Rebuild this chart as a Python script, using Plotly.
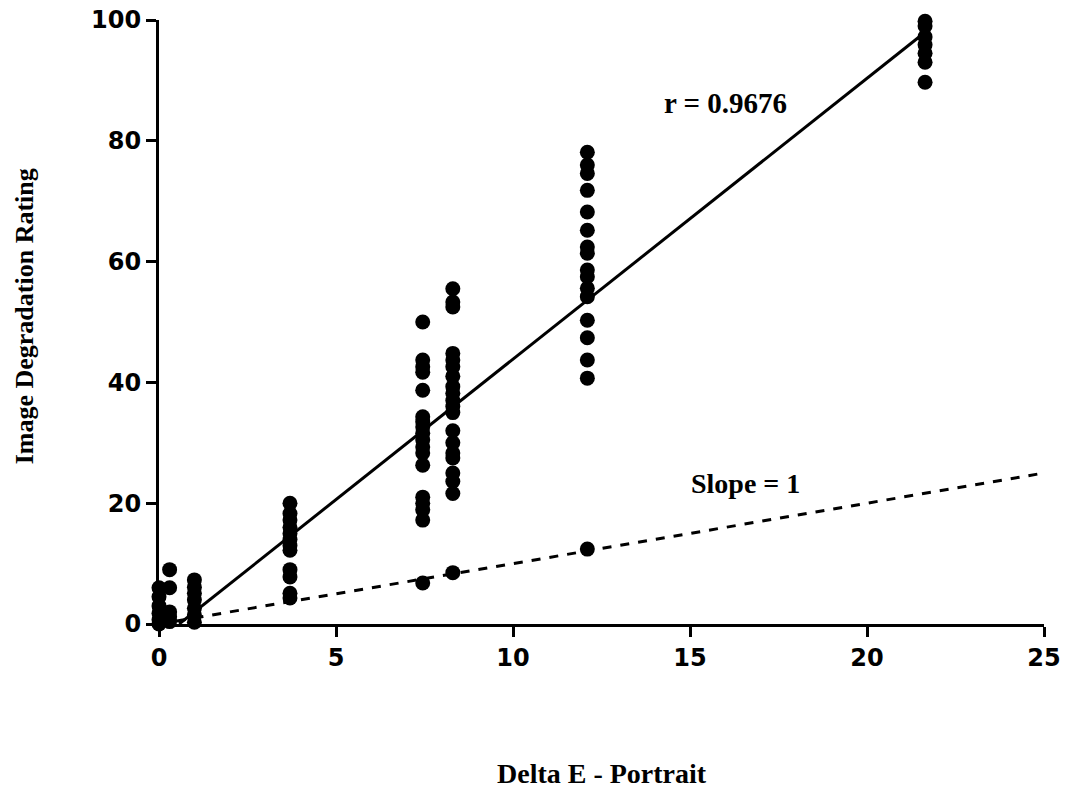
import numpy as np
import plotly.graph_objects as go

# ---- data ----
x_levels = [0.0, 0.3, 1.0, 3.7, 7.45, 8.3, 12.1, 21.64]
ratings = [
    [6.0, 4.5, 3.0, 1.8, 0.7, 0.0],                      # x = 0
    [9.0, 6.0, 2.0, 1.2, 0.4],                           # x = 0.3
    [7.3, 6.1, 5.1, 4.0, 2.6, 1.5, 0.3],                 # x = 1.0
    [20.0, 18.3, 17.2, 16.0, 15.0, 14.0, 13.0, 12.2, 9.0, 7.8, 5.1, 4.3],  # x = 3.7
    [50.0, 43.7, 42.6, 41.7, 38.7, 34.3, 33.5, 32.6, 31.6, 30.5, 29.3,
     28.3, 26.3, 21.0, 20.0, 18.9, 17.2],                # x = 7.45
    [55.5, 53.3, 52.5, 44.8, 43.7, 42.6, 41.0, 39.3, 38.2, 37.0, 36.0,
     35.0, 32.0, 30.0, 28.3, 27.5, 25.0, 23.6, 21.6],    # x = 8.3
    [78.1, 76.0, 74.6, 71.8, 68.2, 65.2, 62.4, 61.4, 58.6, 57.5, 55.6,
     54.2, 50.3, 47.4, 43.7, 40.7],                      # x = 12.1
    [99.8, 99.0, 97.2, 95.9, 94.5, 93.0, 89.7],          # x = 21.64
]
# points lying on the slope = 1 line
ident_x = [7.45, 8.3, 12.1]
ident_y = [6.8, 8.5, 12.4]

fit_slope = 4.65
fit_intercept = -2.65
fit_x_start = 0.57
fit_x_end = 21.64
unity_x = [0, 25]

x_ticks = [0, 5, 10, 15, 20, 25]
y_ticks = [0, 20, 40, 60, 80, 100]

label_r = "r = 0.9676"
label_slope = "Slope = 1"
x_title = "Delta E - Portrait"
y_title = "Image Degradation Rating"

# ---- build ----
px_all, py_all = [], []
for xv, ys in zip(x_levels, ratings):
    px_all += [xv] * len(ys)
    py_all += ys

fit_xs = np.array([fit_x_start, fit_x_end])
fit_ys = fit_slope * fit_xs + fit_intercept

fig = go.Figure()
fig.add_trace(go.Scatter(x=unity_x, y=unity_x, mode="lines",
                         line=dict(color="black", width=3, dash="dash"),
                         hoverinfo="skip", cliponaxis=False))
fig.add_trace(go.Scatter(x=fit_xs, y=fit_ys, mode="lines",
                         line=dict(color="black", width=3),
                         hoverinfo="skip", cliponaxis=False))
fig.add_trace(go.Scatter(x=px_all, y=py_all, mode="markers",
                         marker=dict(color="black", size=15),
                         cliponaxis=False))
fig.add_trace(go.Scatter(x=ident_x, y=ident_y, mode="markers",
                         marker=dict(color="black", size=15),
                         cliponaxis=False))

tickfont = dict(family="DejaVu Sans", size=24, color="black", weight="bold")
fig.update_xaxes(range=[0, 25], tickvals=x_ticks, ticks="outside", ticklen=10,
                 tickwidth=3, tickcolor="black", showline=True, linewidth=3,
                 linecolor="black", showgrid=False, zeroline=False,
                 tickfont=tickfont, ticklabeloverflow="allow", automargin=False)
fig.update_yaxes(range=[0, 100], tickvals=y_ticks, ticks="outside", ticklen=10,
                 tickwidth=3, tickcolor="black", showline=True, linewidth=3,
                 linecolor="black", showgrid=False, zeroline=False,
                 tickfont=tickfont, ticklabeloverflow="allow", automargin=False)

serif = "Liberation Serif"
fig.add_annotation(x=16.0, y=86.3, xref="x", yref="y", text=label_r, showarrow=False,
                   font=dict(family=serif, size=29, color="black", weight="bold"))
fig.add_annotation(x=16.58, y=23.3, xref="x", yref="y", text=label_slope, showarrow=False,
                   font=dict(family=serif, size=28, color="black", weight="bold"))
fig.add_annotation(x=0.5, y=-0.247, xref="paper", yref="paper", text=x_title,
                   showarrow=False, xanchor="center", yanchor="middle",
                   font=dict(family=serif, size=28, color="black", weight="bold"))
fig.add_annotation(x=-0.151, y=0.51, xref="paper", yref="paper", text=y_title,
                   showarrow=False, textangle=-90, xanchor="center", yanchor="middle",
                   font=dict(family=serif, size=26, color="black", weight="bold"))

fig.update_layout(width=1071, height=790, showlegend=False,
                  plot_bgcolor="white", paper_bgcolor="white",
                  margin=dict(l=159, r=27, t=20, b=166, autoexpand=False))

fig.write_html("out.html",
               config={"displayModeBar": False},
               post_script="document.body.style.margin='0';document.body.style.overflow='hidden';")
